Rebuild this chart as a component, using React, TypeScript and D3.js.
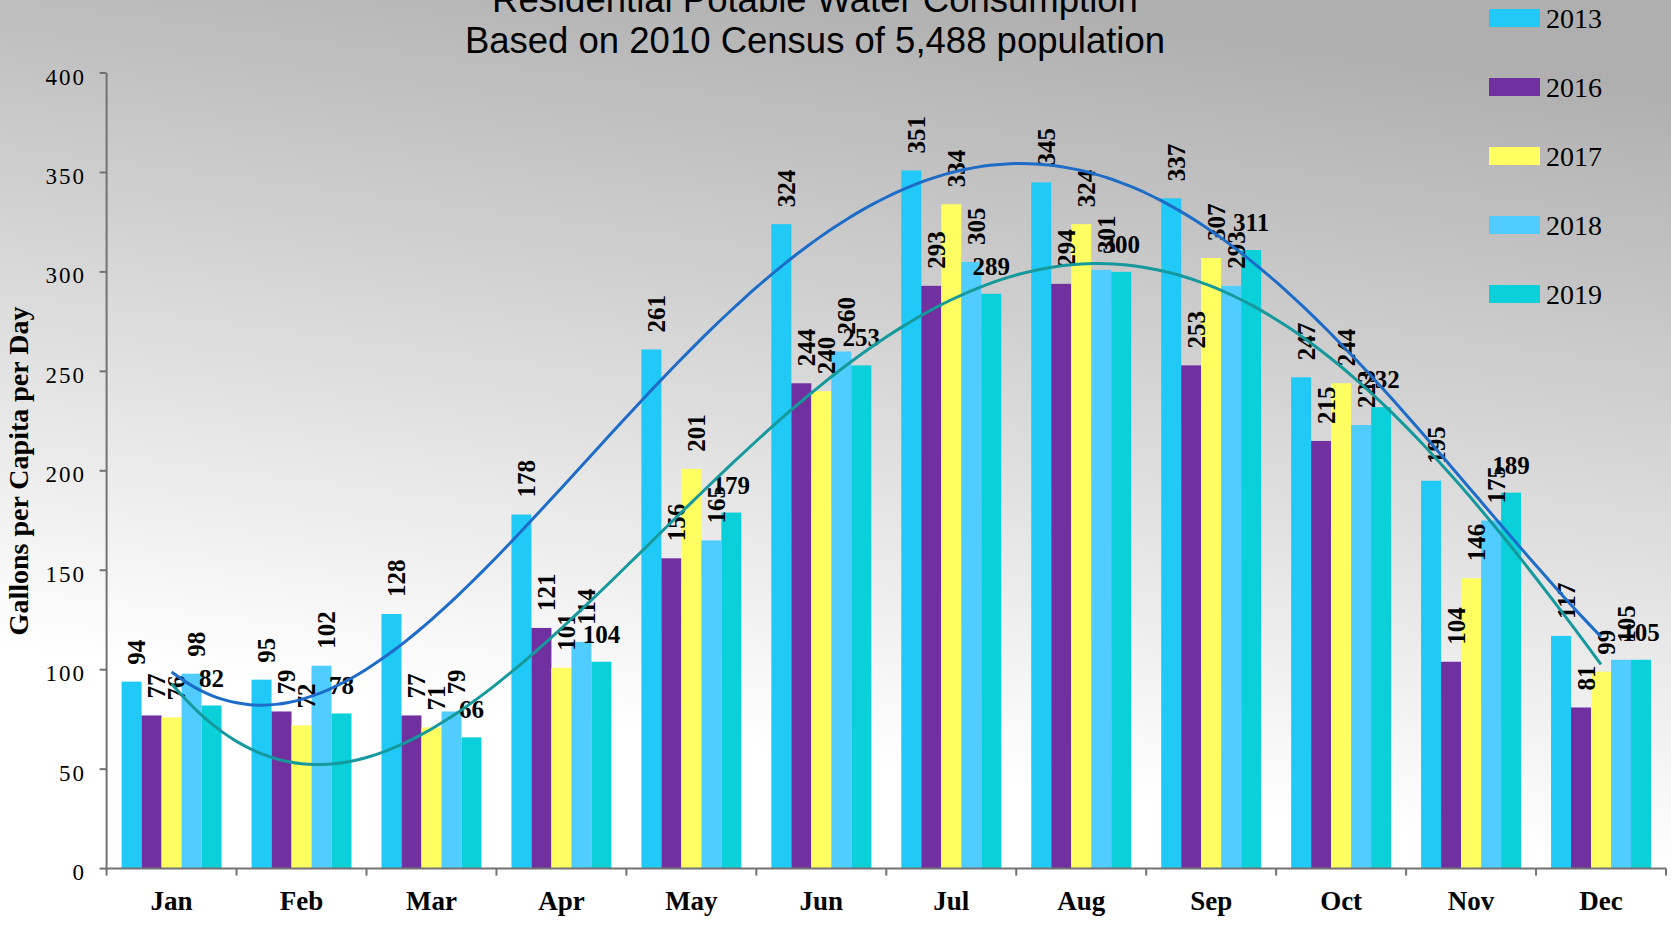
import React, { useEffect } from 'react';
import * as d3 from 'd3';

const months = ['Jan', 'Feb', 'Mar', 'Apr', 'May', 'Jun', 'Jul', 'Aug', 'Sep', 'Oct', 'Nov', 'Dec'];
const years = ['2013', '2016', '2017', '2018', '2019'];
const gal2013 = [94, 95, 128, 178, 261, 324, 351, 345, 337, 247, 195, 117];
const gal2016 = [77, 79, 77, 121, 156, 244, 293, 294, 253, 215, 104, 81];
const gal2017 = [76, 72, 71, 101, 201, 240, 334, 324, 307, 244, 146, 99];
const gal2018 = [98, 102, 79, 114, 165, 260, 305, 301, 293, 223, 175, 105];
const gal2019 = [82, 78, 66, 104, 179, 253, 289, 300, 311, 232, 189, 105];
const yTicks = [0, 50, 100, 150, 200, 250, 300, 350, 400];

const seriesValues = [gal2013, gal2016, gal2017, gal2018, gal2019];
const barColors = ['#21c9f7', '#7030a0', '#ffff61', '#50cdfe', '#0bcfd9'];
const trendColors = { '2013': '#1d6cc8', '2019': '#15999c' };

const W = 1671;
const H = 927;
const serif = '"Liberation Serif", "DejaVu Serif", serif';

// least squares polynomial, like the excel trendline
function polyFit(ys, order) {
  const xs = ys.map((_, i) => i + 1);
  const m = order + 1;
  const A = [];
  for (let r = 0; r < m; r++) {
    const row = [];
    for (let c = 0; c < m; c++) row.push(d3.sum(xs, (x) => Math.pow(x, r + c)));
    row.push(d3.sum(xs, (x, i) => Math.pow(x, r) * ys[i]));
    A.push(row);
  }
  for (let i = 0; i < m; i++) {
    let p = i;
    for (let k = i + 1; k < m; k++) if (Math.abs(A[k][i]) > Math.abs(A[p][i])) p = k;
    [A[i], A[p]] = [A[p], A[i]];
    for (let k = i + 1; k < m; k++) {
      const f = A[k][i] / A[i][i];
      for (let c = i; c <= m; c++) A[k][c] -= f * A[i][c];
    }
  }
  const coef = new Array(m).fill(0);
  for (let i = m - 1; i >= 0; i--) {
    let s = A[i][m];
    for (let c = i + 1; c < m; c++) s -= A[i][c] * coef[c];
    coef[i] = s / A[i][i];
  }
  return (x) => coef.reduce((acc, a, k) => acc + a * Math.pow(x, k), 0);
}

export default function App() {
  useEffect(() => {
    document.body.style.margin = '0';
    document.body.style.overflow = 'hidden';
  }, []);

  const left = 106.6;
  const right = 1666;
  const top = 73;
  const bottom = 868.6;

  const x = d3.scaleBand().domain(months).range([left, right]).padding(0);
  const inner = d3
    .scaleBand()
    .domain(years)
    .range([0, x.bandwidth()])
    .paddingOuter(0.75)
    .paddingInner(0);
  const y = d3.scaleLinear().domain([0, 400]).range([bottom, top]);
  const xCenter = d3
    .scaleLinear()
    .domain([1, 12])
    .range([x('Jan') + x.bandwidth() / 2, x('Dec') + x.bandwidth() / 2]);

  const line = d3
    .line()
    .x((d) => xCenter(d[0]))
    .y((d) => y(d[1]))
    .curve(d3.curveBasis);

  const trends = [
    { name: '2013', fn: polyFit(gal2013, 4) },
    { name: '2019', fn: polyFit(gal2019, 4) },
  ];
  const steps = d3.range(1, 12.0001, 0.1);

  const boundaries = months.map((m) => x(m)).concat([right]);

  return (
    <div>
      <svg width={W} height={H} style={{ display: 'block' }}>
        <defs>
          <linearGradient id="bg" x1="0.62" y1="0" x2="0.38" y2="1">
            <stop offset="0" stopColor="#afafaf" />
            <stop offset="0.45" stopColor="#dcdcdc" />
            <stop offset="0.8" stopColor="#ffffff" />
            <stop offset="1" stopColor="#ffffff" />
          </linearGradient>
        </defs>
        <rect x={0} y={0} width={W} height={H} fill="url(#bg)" />

        {/* title */}
        <g fontFamily='"Liberation Sans", Arial, sans-serif' fontSize={36.5} fill="#000" textAnchor="middle">
          <text x={815} y={11.5}>Residential Potable Water Consumption</text>
          <text x={815} y={53}>Based on 2010 Census of 5,488 population</text>
        </g>

        {/* bars */}
        {seriesValues.map((vals, si) => (
          <g key={years[si]} fill={barColors[si]}>
            {vals.map((v, mi) => (
              <rect
                key={mi}
                x={x(months[mi]) + inner(years[si])}
                y={y(v)}
                width={inner.bandwidth()}
                height={bottom - y(v)}
              />
            ))}
          </g>
        ))}

        {/* data labels */}
        <g fontFamily={serif} fontWeight="bold" fontSize={25} fill="#000">
          {seriesValues.map((vals, si) =>
            vals.map((v, mi) => {
              const cx = x(months[mi]) + inner(years[si]) + inner.bandwidth() / 2;
              if (si === 4) {
                return (
                  <text key={`${si}-${mi}`} x={cx} y={y(v) - 19} textAnchor="middle">
                    {v}
                  </text>
                );
              }
              return (
                <text
                  key={`${si}-${mi}`}
                  transform={`translate(${cx + 5},${y(v) - 17}) rotate(-90)`}
                  dominantBaseline="central"
                >
                  {v}
                </text>
              );
            })
          )}
        </g>

        {/* trend lines */}
        {trends.map((t) => (
          <path
            key={t.name}
            d={line(steps.map((s) => [s, t.fn(s)]))}
            fill="none"
            stroke={trendColors[t.name]}
            strokeWidth={3}
          />
        ))}

        {/* axes */}
        <g stroke="#727272" strokeWidth={2}>
          <line x1={left} x2={left} y1={top} y2={bottom + 1} />
          <line x1={left - 1} x2={right} y1={bottom} y2={bottom} />
          {yTicks.map((t) => (
            <line key={t} x1={left - 7} x2={left} y1={y(t)} y2={y(t)} />
          ))}
          {boundaries.map((b, i) => (
            <line key={i} x1={b} x2={b} y1={bottom} y2={bottom + 7} />
          ))}
        </g>
        <g fontFamily={serif} fontSize={23} fill="#000" textAnchor="end" letterSpacing={2}>
          {yTicks.map((t) => (
            <text key={t} x={86} y={y(t) + 4} dominantBaseline="central">
              {t}
            </text>
          ))}
        </g>
        <g fontFamily={serif} fontWeight="bold" fontSize={27} fill="#000" textAnchor="middle">
          {months.map((m) => (
            <text key={m} x={x(m) + x.bandwidth() / 2} y={910}>
              {m}
            </text>
          ))}
        </g>
        <text
          transform="translate(18,471) rotate(-90)"
          fontFamily={serif}
          fontWeight="bold"
          fontSize={28}
          textAnchor="middle"
          dominantBaseline="central"
        >
          Gallons per Capita per Day
        </text>

        {/* legend */}
        {years.map((yr, i) => (
          <g key={yr} transform={`translate(1489,${9 + i * 69})`}>
            <rect x={0} y={0} width={51} height={18} fill={barColors[i]} />
            <text x={57} y={19} fontFamily={serif} fontSize={28} fill="#000">
              {yr}
            </text>
          </g>
        ))}
      </svg>
    </div>
  );
}
